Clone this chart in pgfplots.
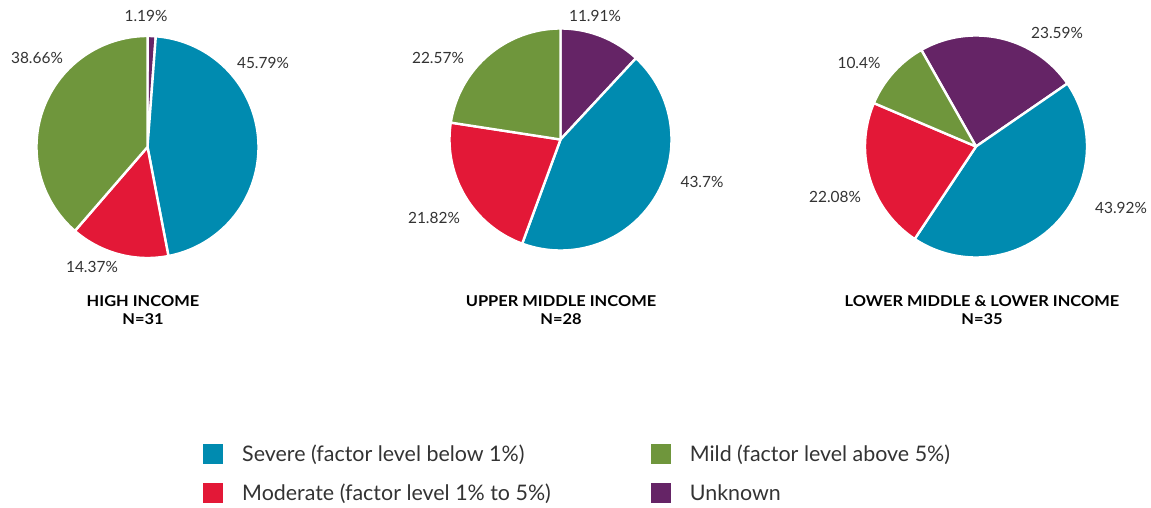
\documentclass[border=0pt]{standalone}
\usepackage{pgfplots}
\pgfplotsset{compat=1.18}
\usepackage{fontspec}
\setmainfont{Lato}
\newfontfamily\titlefont{Lato}[FakeStretch=1.1]
\definecolor{cSev}{HTML}{008BB0}
\definecolor{cMod}{HTML}{E31837}
\definecolor{cMild}{HTML}{6F963C}
\definecolor{cUnk}{HTML}{652466}
\definecolor{txt}{HTML}{333333}
% slice: cx, cy, r, angle from, angle to, colour
\newcommand\slice[6]{%
  \addplot[fill=#6, draw=white, line width=2.4bp, line join=round, domain=#4:#5, samples=90, variable=\t]
    ({#1+#3*cos(t)}, {#2-#3*sin(t)}) -- (axis cs:#1,#2) -- cycle;
}
% pie: cx, cy, start angle, Unknown, Severe, Moderate, Mild (clockwise from start)
\newcommand\pie[7]{%
  \pgfmathsetmacro\aA{#3}%
  \pgfmathsetmacro\aB{#3-3.6*#4}%
  \pgfmathsetmacro\aC{\aB-3.6*#5}%
  \pgfmathsetmacro\aD{\aC-3.6*#6}%
  \pgfmathsetmacro\aE{\aD-3.6*#7}%
  \edef\tmp{\noexpand\slice{#1}{#2}{111}{\aB}{\aA}{cUnk}
    \noexpand\slice{#1}{#2}{111}{\aC}{\aB}{cSev}
    \noexpand\slice{#1}{#2}{111}{\aD}{\aC}{cMod}
    \noexpand\slice{#1}{#2}{111}{\aE}{\aD}{cMild}}%
  \tmp
}
\begin{document}
\begin{tikzpicture}
\begin{axis}[
  width=1151bp, height=508bp, scale only axis,
  xmin=0, xmax=1151, ymin=0, ymax=508, y dir=reverse,
  hide axis, clip=false,
  legend columns=2,
  legend cell align=left,
  legend image code/.code={\fill[#1, draw=none] (0bp,-10bp) rectangle (20bp,10bp); \path[draw=none, fill=none] (0bp,0bp) -- (37bp,0bp);},
  legend style={at={(axis cs:203,443)}, anchor=north west, draw=none, fill=none,
    font=\fontsize{21.5}{23}\selectfont, text=txt, row sep=17bp,
    /tikz/every odd column/.append style={column sep=0bp},
    /tikz/every even column/.append style={column sep=98bp},
    inner sep=0pt},
]
\addlegendimage{fill=cSev}
\addlegendentry{Severe (factor level below 1\%)}
\addlegendimage{fill=cMild}
\addlegendentry{Mild (factor level above 5\%)}
\addlegendimage{fill=cMod}
\addlegendentry{Moderate (factor level 1\% to 5\%)}
\addlegendimage{fill=cUnk}
\addlegendentry{Unknown}

\pie{147.5}{147}{90}{1.19}{45.79}{14.37}{38.66}
\pie{560.5}{139.5}{90}{11.91}{43.7}{21.82}{22.57}
\pie{976}{146.5}{119.5}{23.59}{43.92}{22.08}{10.4}

\begin{scope}[every node/.style={font=\fontsize{15.5}{17}\selectfont, text=txt}]
\node at (axis cs:146,16) {1.19\%};
\node at (axis cs:263,63) {45.79\%};
\node at (axis cs:92,267) {14.37\%};
\node at (axis cs:37,58) {38.66\%};
\node at (axis cs:595,16) {11.91\%};
\node at (axis cs:702,182) {43.7\%};
\node at (axis cs:434,218) {21.82\%};
\node at (axis cs:438,58) {22.57\%};
\node at (axis cs:1057,33) {23.59\%};
\node at (axis cs:1121,208) {43.92\%};
\node at (axis cs:835,197) {22.08\%};
\node at (axis cs:859,63) {10.4\%};
\end{scope}
\begin{scope}[every node/.style={font=\titlefont\bfseries\fontsize{15}{16}\selectfont, text=black, align=center}]
\node at (axis cs:143,301) {HIGH INCOME};
\node at (axis cs:143,319) {N=31};
\node at (axis cs:561,301) {UPPER MIDDLE INCOME};
\node at (axis cs:561,319) {N=28};
\node at (axis cs:982,301) {LOWER MIDDLE \& LOWER INCOME};
\node at (axis cs:982,319) {N=35};
\end{scope}
\end{axis}
\pgfresetboundingbox
\path[use as bounding box] (current axis.south west) rectangle (current axis.north east);
\end{tikzpicture}
\end{document}
